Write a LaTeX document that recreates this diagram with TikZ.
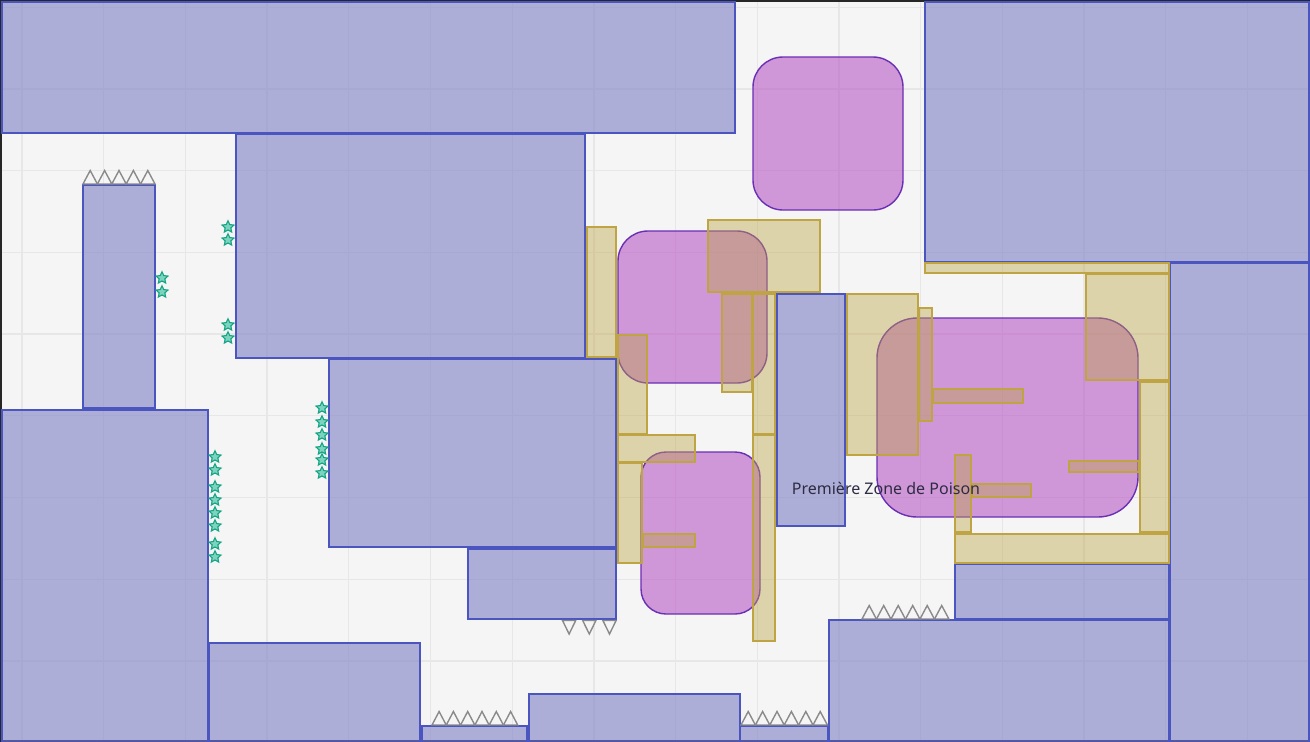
\documentclass[tikz,border=0pt]{standalone}
\usepackage{fontspec}
\setmainfont{Noto Sans}
\usetikzlibrary{shapes.geometric}
\definecolor{floor}{HTML}{F5F5F5}
\definecolor{gridc}{HTML}{E7E7E7}
\definecolor{wallf}{HTML}{7D80C6}
\definecolor{walld}{HTML}{4A55C0}
\definecolor{crate}{HTML}{BEA443}
\definecolor{poison}{HTML}{B757C5}
\definecolor{poisond}{HTML}{6A2FB5}
\definecolor{spikec}{HTML}{8A8A8A}
\definecolor{gemd}{HTML}{14A585}
\definecolor{gemf}{HTML}{7ED3BE}
\definecolor{ink}{HTML}{2E2C42}

\begin{document}
\begin{tikzpicture}[
    x=1pt, y=-1pt,
    wall/.style={draw=walld, fill=wallf, fill opacity=0.6, line width=1.8pt},
    zone/.style={draw=poisond, fill=poison, fill opacity=0.6, line width=1.4pt},
    crate/.style={draw=crate, fill=crate, fill opacity=0.42, line width=1.8pt},
    spike/.style={draw=spikec, line width=1.4pt, line join=miter},
    gem/.style={star, star points=5, star point ratio=2.1, minimum size=12.5pt, inner sep=0pt,
                draw=gemd, fill=gemf, line width=1.1pt},
    lbl/.style={text=ink, font=\fontsize{16}{19}\selectfont, inner sep=0pt},
  ]
  \useasboundingbox (0,0) rectangle (1310,742);
  \fill[floor] (0,0) rectangle (1310,742);
  % grid, one cell every 81.7px
  \foreach \k in {0,...,15} \draw[gridc, line width=1.3pt] ({22+81.7*\k},0) -- ({22+81.7*\k},742);
  \foreach \k in {0,...,9} \draw[gridc, line width=1.3pt] (0,{7.3+81.7*\k}) -- (1310,{7.3+81.7*\k});
  \draw[black!85, line width=2pt] (1,1) rectangle (1309,741);

  % solid walls
  \foreach \xa/\ya/\xb/\yb in {2/2/735/133, 925/2/1309/262, 236/134/585/358, 83/185/155/408,
      2/410/208/742, 329/359/616/547, 468/549/616/619, 209/643/420/742, 422/726/527/742,
      529/694/740/742, 740/726/828/742, 829/620/1169/742, 955/564/1169/619, 1170/263/1309/742,
      777/294/845/526}
    \draw[wall] (\xa,\ya) rectangle (\xb,\yb);

  % poison zones
  \draw[zone, rounded corners=30pt] (753,57) rectangle (903,210);
  \draw[zone, rounded corners=30pt] (618,231) rectangle (767,383);
  \draw[zone, rounded corners=25pt] (641,452) rectangle (760,614);
  \draw[zone, rounded corners=40pt] (877,318) rectangle (1138,517);

  % crates
  \foreach \xa/\ya/\xb/\yb in {587/227/616/357, 708/220/820/292, 722/294/752/392, 753/294/775/434,
      618/335/647/434, 618/435/695/462, 618/463/642/563, 643/534/695/547, 753/435/775/641,
      925/263/1169/273, 1086/274/1169/380, 847/294/918/455, 919/308/932/421, 933/389/1023/403,
      1140/382/1169/532, 1069/461/1139/472, 955/455/971/532, 972/484/1031/497, 955/534/1169/563}
    \draw[crate] (\xa,\ya) rectangle (\xb,\yb);

  % spikes
  \foreach \i in {0,...,4} \draw[spike] ({83+14.4*\i},184) -- ++(7.2,-13.5) -- ++(7.2,13.5) -- cycle;
  \foreach \i in {0,...,5} \draw[spike] ({432+14.3*\i},725) -- ++(7.1,-13.5) -- ++(7.1,13.5) -- cycle;
  \foreach \i in {0,...,5} \draw[spike] ({741+14.4*\i},725) -- ++(7.2,-13.5) -- ++(7.2,13.5) -- cycle;
  \foreach \i in {0,...,5} \draw[spike] ({862+14.5*\i},619) -- ++(7.2,-13.5) -- ++(7.2,13.5) -- cycle;
  \foreach \i in {0,...,2} \draw[spike] ({562.5+20.2*\i},620.5) -- ++(6.6,13.5) -- ++(6.6,-13.5) -- cycle;

  % gems
  \foreach \px/\py [count=\n] in {228/227, 228/240, 162/278, 162/292, 228/325, 228/338,
      215/457, 215/470, 215/487, 215/500, 215/513, 215/526, 215/544, 215/557,
      322/408, 322/422, 322/435, 322/449, 322/460, 322/473}
    \node[gem] (gem\n) at (\px,\py) {};

  \node[lbl] (zonename) at (886,488) {Première Zone de Poison};
\end{tikzpicture}
\end{document}
